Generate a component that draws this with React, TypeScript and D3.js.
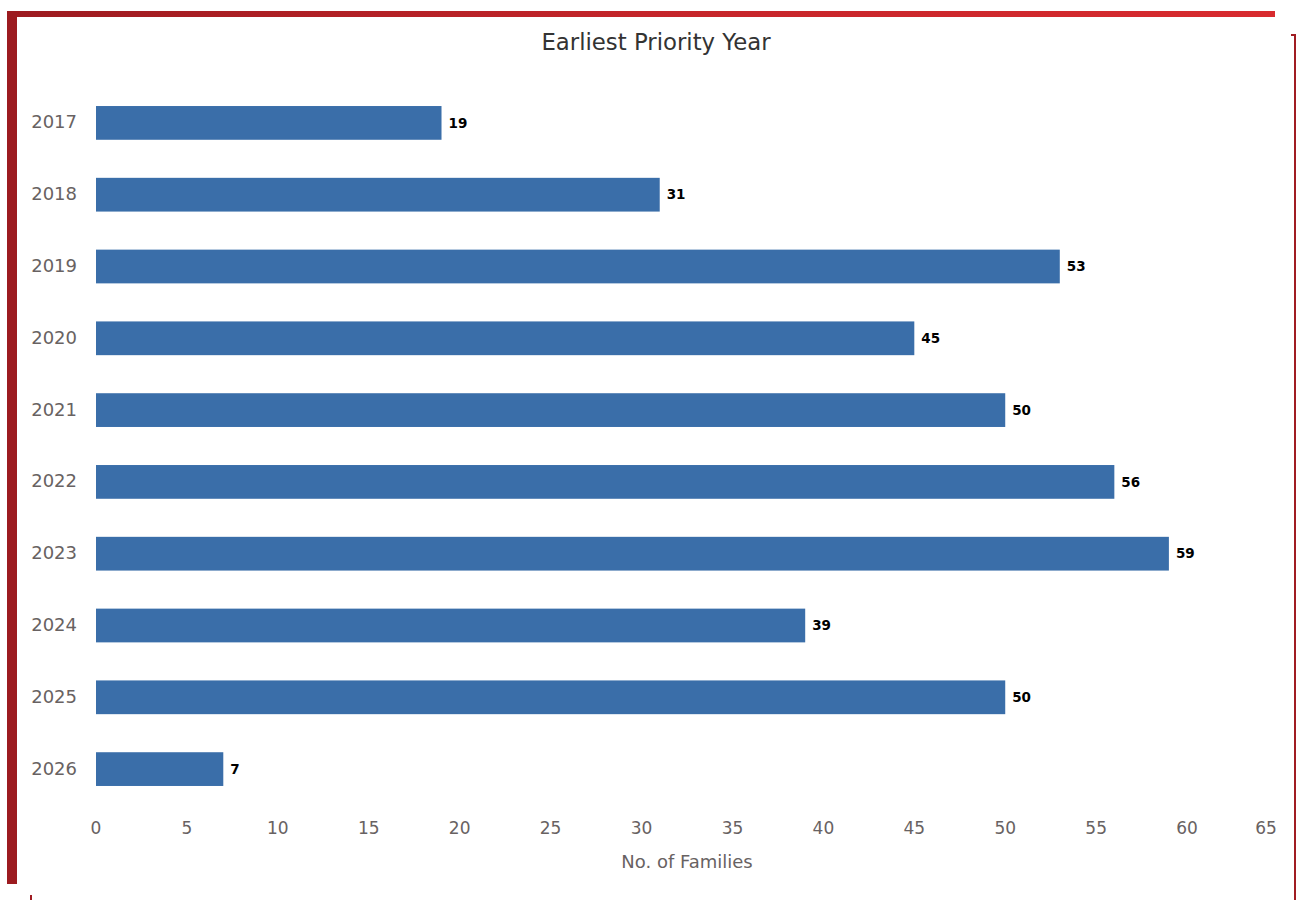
import React from "react";
import * as d3 from "d3";

const years = ["2017", "2018", "2019", "2020", "2021", "2022", "2023", "2024", "2025", "2026"];
const families = [19, 31, 53, 45, 50, 56, 59, 39, 50, 7];
const xTicks = [0, 5, 10, 15, 20, 25, 30, 35, 40, 45, 50, 55, 60, 65];
const chartTitle = "Earliest Priority Year";
const xAxisTitle = "No. of Families";

const W = 1304;
const H = 900;
const left = 96;
const right = 1278;
const top = 87;
const bottom = 805;
const font = "'DejaVu Sans', 'Noto Sans', sans-serif";

export default function App() {
  const x = d3.scaleLinear().domain([0, 65]).range([left, right]);
  const y = d3.scaleBand().domain(years).range([top, bottom]).paddingInner(0.53).paddingOuter(0.265);
  return (
    <svg width={W} height={H} style={{ position: "absolute", left: 0, top: 0, background: "#fff" }}>
      <defs>
        <linearGradient id="topbar" x1="0" x2="1" y1="0" y2="0">
          <stop offset="0" stopColor="#9c1b20" />
          <stop offset="0.5" stopColor="#c4252a" />
          <stop offset="1" stopColor="#d82b2f" />
        </linearGradient>
      </defs>
      <rect x={0} y={0} width={W} height={H} fill="#fff" />
      <rect x={7} y={11} width={1268} height={6} fill="url(#topbar)" />
      <rect x={7} y={11} width={10} height={873} fill="#9c1b20" />
      <rect x={1294} y={34} width={2} height={866} fill="#a01c22" />
      <rect x={1291} y={34} width={5} height={2} fill="#a01c22" />
      <rect x={30} y={895} width={2} height={5} fill="#a01c22" />
      <text x={656} y={50} textAnchor="middle" fontFamily={font} fontSize={22.8} fill="#333">
        {chartTitle}
      </text>
      {years.map((yr, i) => {
        const yy = y(yr)!;
        const bw = y.bandwidth();
        return (
          <g key={yr}>
            <text x={77} y={yy + bw / 2} dy="0.3em" textAnchor="end" fontFamily={font} fontSize={18} fill="#686262">
              {yr}
            </text>
            <rect x={x(0)} y={yy} width={x(families[i]) - x(0)} height={bw} fill="#3a6ea9" />
            <text x={x(families[i]) + 7} y={yy + bw / 2} dy="0.35em" fontFamily={font} fontSize={13.5} fontWeight="bold" fill="#000">
              {families[i]}
            </text>
          </g>
        );
      })}
      {xTicks.map((t) => {
        const px = Math.min(x(t), 1266);
        return (
          <text key={t} x={px} y={834} textAnchor="middle" fontFamily={font} fontSize={17} fill="#686262">
            {t}
          </text>
        );
      })}
      <text x={687} y={868} textAnchor="middle" fontFamily={font} fontSize={18} fill="#686262">
        {xAxisTitle}
      </text>
    </svg>
  );
}
